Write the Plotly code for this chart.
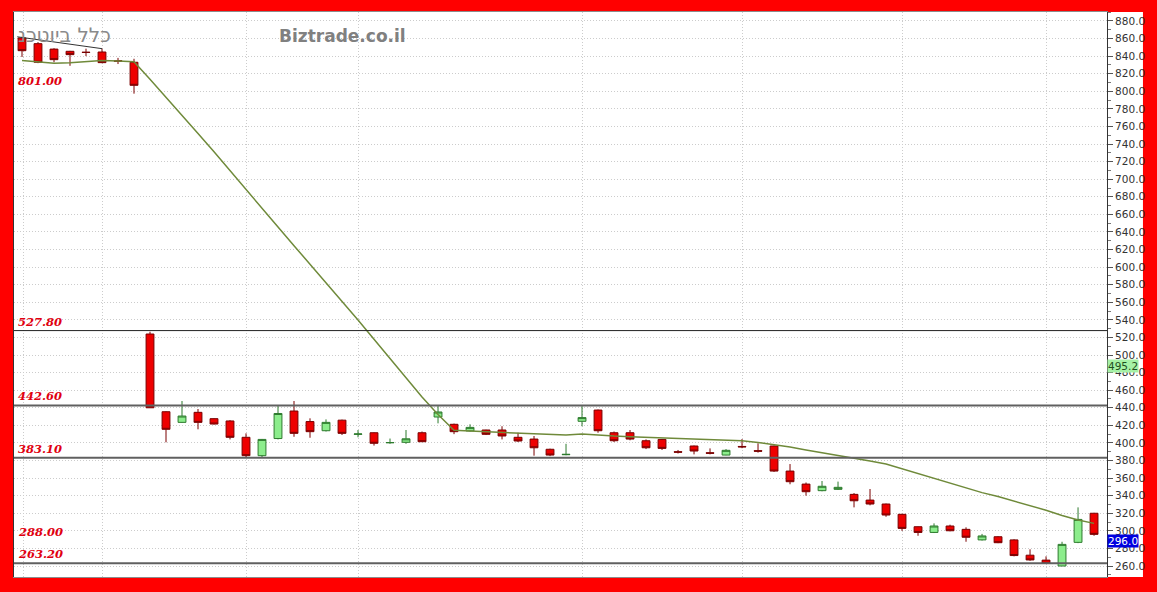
import plotly.graph_objects as go

# ---- data ----
days = list(range(1, 69))
open_ = [860.7, 854.2, 848, 845.5, 844.5, 844.7, 834.8, 833,
         523.9, 435.5, 423.4, 434.8, 427.6, 425, 406.4, 385.5, 405, 436.3, 424.3, 413.9,
         425.9, 409.8, 411.6, 400.1, 400.7, 411.6, 429.5, 421.2, 413.6, 414.7, 414.7, 406.4,
         404.4, 392.8, 386.6, 424.6, 437.4, 411.6, 411.6, 402.5, 404, 390, 396.5, 388.8,
         386.2, 396, 391.2, 396.5, 368, 353.2, 345.7, 347.2, 341.5, 335, 330.5, 318.8,
         304.7, 298.2, 305.5, 301.7, 289.7, 293.3, 289.7, 272.3, 266.7, 260, 286.9, 320]
high = [862, 856, 849, 846, 848.5, 848.5, 838, 837,
        526.5, 436, 447.7, 438.6, 428, 426, 410.9, 404.5, 442.3, 447.7, 428, 426.8,
        426.5, 414.7, 412, 405, 414.7, 413, 441.9, 422, 421.2, 415, 419, 411.6,
        407.9, 393.5, 399, 441.9, 438, 413, 414.7, 404, 404.5, 392, 397, 393.8,
        393, 404.4, 399.6, 397, 376, 355, 356.7, 356, 343, 347.6, 331, 319.5,
        305, 308.5, 307, 304, 296.5, 294, 290.5, 279, 271, 287.6, 326.7, 320.5]
low = [839, 832, 833, 829, 840, 832, 831, 797.3,
       440, 400.7, 423, 415.5, 421, 404, 383.1, 383.1, 404, 407, 405.9, 413,
       409, 406.4, 397, 399, 399, 401, 422.3, 410, 413, 409, 404, 401,
       385.5, 385, 386, 419, 411.6, 401, 403, 393, 392, 388, 387, 387,
       386, 394, 389, 367, 353, 340, 345, 346.5, 326.7, 329, 316, 300,
       294.4, 297.5, 299.5, 287.6, 289, 286, 271, 266, 262.5, 260, 286, 294.4]
close = [846.2, 833, 836, 841.7, 844.2, 832.6, 834.2, 806.8,
         440, 415.5, 430.6, 423.4, 421.5, 406.4, 385.5, 404, 433.5, 410.9, 412.8, 423.4,
         410.9, 410.2, 399.6, 400.5, 404.7, 401.4, 435.2, 412.8, 417.7, 409.8, 407.9, 402.2,
         394.5, 386.2, 387, 428.8, 413.9, 402.5, 404.4, 394.5, 393.8, 389.5, 390.8, 388.3,
         391.6, 395.5, 390.6, 368, 355.9, 344.5, 350.7, 349.5, 334.2, 330.5, 318, 302.8,
         298.2, 305.5, 300.1, 292.7, 294.2, 286.5, 271.9, 266.9, 263, 284.6, 313, 296]
ma20 = [835, 833.5, 832, 832.5, 833.5, 835, 834.5, 833.5,
        813.7, 792.7, 772.5, 751.9, 731.2, 709.8, 687.3, 665.7, 645.6, 624.4, 603.3, 582.7,
        560.9, 539.8, 518, 495.9, 473.9, 452.3, 432.4, 414.5, 413.5, 412.8, 412.2, 411.6,
        410.8, 409.5, 409, 410.3, 408.8, 407.8, 407, 406.3, 405.6, 405, 404.4, 403.8,
        403.1, 402.4, 400.5, 398.4, 395.5, 392, 389, 386, 383, 379.5, 376, 370.5,
        365, 359.5, 354, 349, 343.5, 339, 334, 329, 323.5, 317.5, 312.3, 308.5]

trend_x = [0.7, 6]
trend_y = [862, 848.5]

label_levels = [801.00, 527.80, 442.60, 383.10, 288.00, 263.20]
line_levels = [527.80, 442.60, 383.10, 263.20]
grid_days = [1.1, 6, 15, 22, 36, 46, 56, 65]

last_ma_value = 495.2
last_close_value = 296.0

# ---- figure ----
fig = go.Figure()

fig.add_trace(go.Scatter(x=days, y=ma20, mode="lines",
                         line=dict(color="#6f8a3a", width=1.5),
                         showlegend=False, hoverinfo="skip"))

fig.add_trace(go.Candlestick(
    x=days, open=open_, high=high, low=low, close=close,
    increasing=dict(fillcolor="#8ced8c", line=dict(color="#2d7a2d", width=1)),
    decreasing=dict(fillcolor="#ee0000", line=dict(color="#7a0000", width=1)),
    showlegend=False))

fig.add_trace(go.Scatter(x=trend_x, y=trend_y, mode="lines",
                         line=dict(color="#333333", width=1),
                         showlegend=False, hoverinfo="skip"))

shapes = []
# white backing for the axis-label strip
shapes.append(dict(type="rect", xref="paper", yref="paper", x0=0, x1=1.0329,
                   y0=0, y1=1, fillcolor="white", line=dict(width=0), layer="below"))
for i, lv in enumerate(line_levels):
    shapes.append(dict(type="line", xref="paper", yref="y", x0=0, x1=1, y0=lv, y1=lv,
                       line=dict(color="#222222" if i == 0 else "#606060",
                                 width=1 if i == 0 else 2)))

annotations = []
for lv in label_levels:
    annotations.append(dict(xref="paper", yref="y", x=0.0015, y=lv,
                            xanchor="left", yanchor="bottom", showarrow=False,
                            text="<b><i>%.2f</i></b>" % lv,
                            font=dict(family="DejaVu Serif", size=11.5, color="#e00010")))
annotations.append(dict(xref="paper", yref="paper", x=0.0906, y=0.959,
                        xanchor="right", yanchor="middle", showarrow=False,
                        text="כלל ביוטכנ",
                        font=dict(family="DejaVu Sans", size=20, color="#8a8a8a")))
annotations.append(dict(xref="paper", yref="paper", x=0.301, y=0.9575,
                        xanchor="center", yanchor="middle", showarrow=False,
                        text="<b>Biztrade.co.il</b>",
                        font=dict(family="DejaVu Sans", size=17, color="#808080")))
annotations.append(dict(xref="paper", yref="y", x=1.0, y=last_ma_value,
                        xanchor="left", yanchor="top", showarrow=False,
                        text="%.1f" % last_ma_value, bgcolor="#a6f2a6", borderpad=0,
                        font=dict(family="DejaVu Sans", size=10.5, color="#1f4f1f")))
annotations.append(dict(xref="paper", yref="y", x=1.0, y=last_close_value,
                        xanchor="left", yanchor="top", showarrow=False,
                        text="%.1f" % last_close_value, bgcolor="#0000e0", borderpad=0,
                        font=dict(family="DejaVu Sans", size=10.5, color="white")))

fig.update_layout(
    width=1157, height=592,
    margin=dict(l=14, r=50, t=12, b=15, autoexpand=False),
    paper_bgcolor="#ff0000", plot_bgcolor="white",
    shapes=shapes, annotations=annotations,
    xaxis=dict(range=[0.5, 68.81], tickmode="array", tickvals=grid_days,
               showticklabels=False, showgrid=True, gridcolor="#cccccc",
               griddash="1px,2px", zeroline=False, rangeslider=dict(visible=False),
               showline=True, linecolor="#8c8c8c", mirror=True, ticks=""),
    yaxis=dict(range=[247.5, 890.2], side="right", tick0=0, dtick=20,
               tickformat=".1f", showgrid=True, gridcolor="#cccccc", griddash="1px,2px",
               zeroline=False, showline=True, linecolor="#333333", mirror=True,
               ticks="outside", ticklen=5, tickcolor="#555555",
               minor=dict(dtick=10, ticks="outside", ticklen=3, tickcolor="#777777",
                          showgrid=False),
               tickfont=dict(family="DejaVu Sans", size=10.5, color="#333333")),
)

fig.write_html("out.html", config={"displayModeBar": False},
               post_script="document.body.style.margin='0';document.body.style.background='#ff0000';")
